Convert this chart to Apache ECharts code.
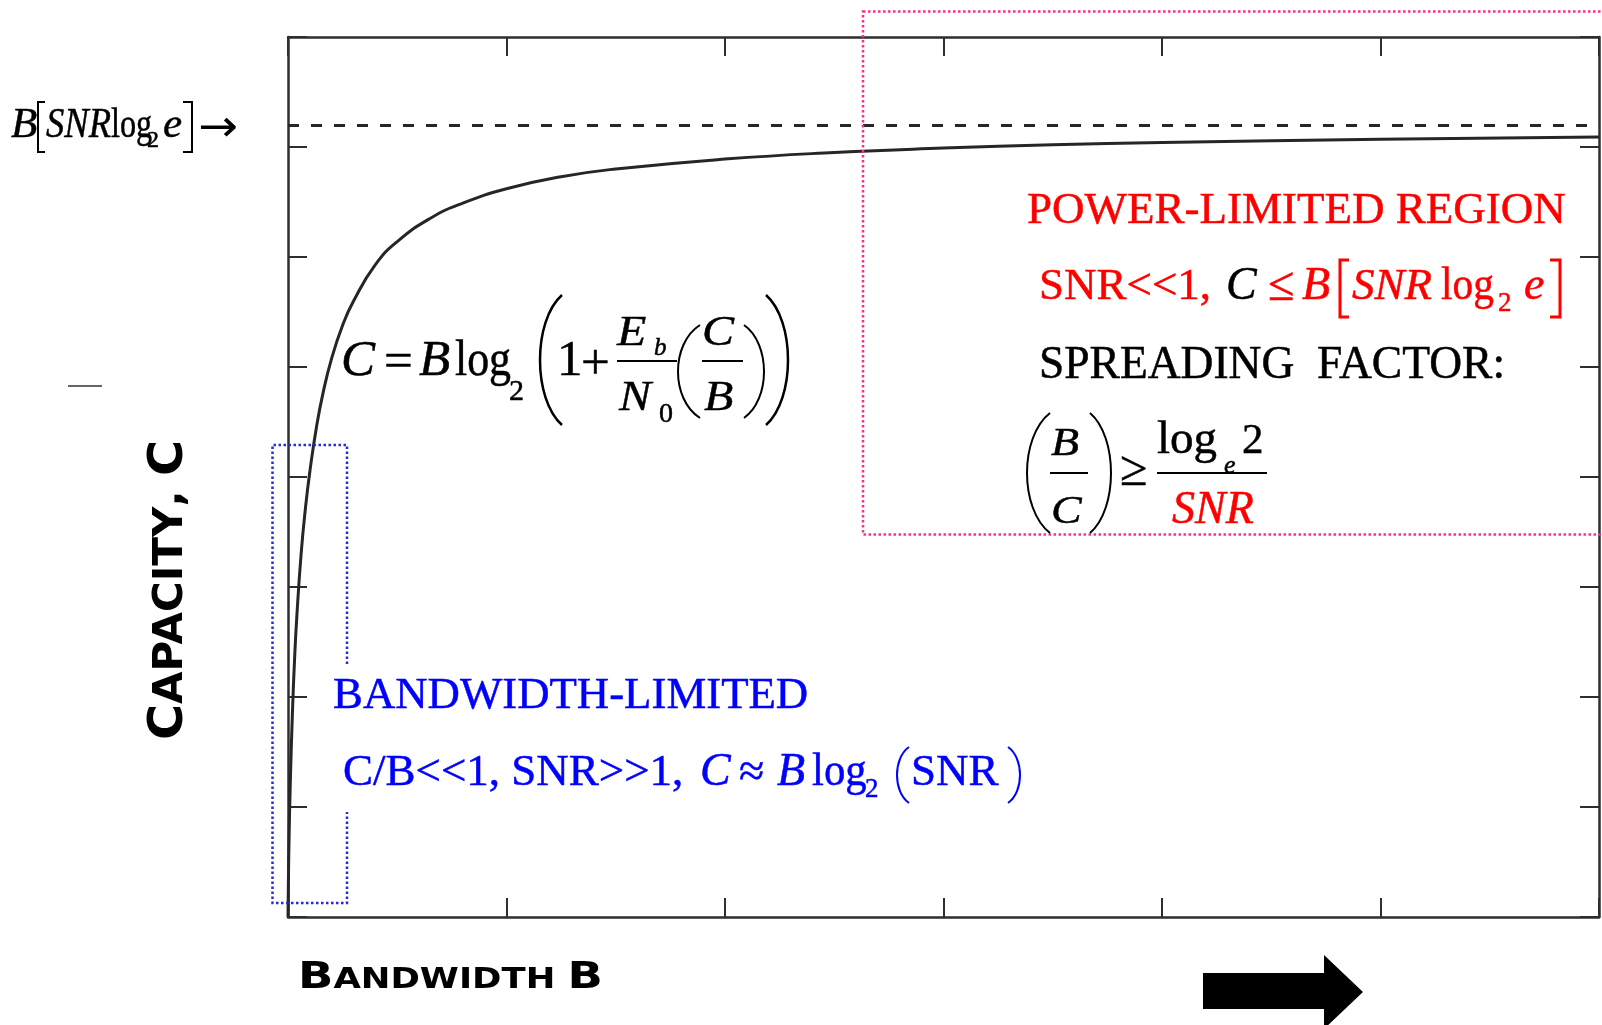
<!DOCTYPE html>
<html><head><meta charset="utf-8">
<script src="https://cdn.jsdelivr.net/npm/echarts@6/dist/echarts.min.js"></script>
<style>html,body{margin:0;padding:0;background:#fff}#c{width:1602px;height:1025px}</style>
</head><body><div id="c"></div><script>
// ---- data (bandwidth / capacity in axis units) ----
const bandwidth = [0, 0.002, 0.005, 0.01, 0.02, 0.03, 0.04, 0.06, 0.08, 0.1, 0.13, 0.16, 0.2, 0.25, 0.3, 0.4, 0.5, 0.65, 0.8, 1.0, 1.25, 1.5, 2.0, 2.5, 3.0, 3.5, 4.0, 5.0, 6.0];
const capacity  = [0, 0.36, 0.72, 1.18, 1.84, 2.34, 2.72, 3.30, 3.72, 4.05, 4.45, 4.76, 5.08, 5.38, 5.60, 5.93, 6.14, 6.35, 6.49, 6.62, 6.73, 6.80, 6.89, 6.95, 6.99, 7.02, 7.04, 7.07, 7.09];
const asymptoteCapacity = [7.2];
const xAxisRange = [0, 6];
const yAxisRange = [0, 8];
const xAxisName = ['B', 'ANDWIDTH', ' ', 'B'];
const yAxisName = ['C', 'APACITY', ',', ' ', 'C'];

const FRAME = '#2e2e2e', RED = '#ff0000', BLUE = '#0000ff', BLK = '#000000';
const SERIF = '"Liberation Serif","Times New Roman",serif';
const SANS = '"DejaVu Sans",sans-serif';
const mctx = document.createElement('canvas').getContext('2d');
function fontStr(size, it, bold, fam) { return (it ? 'italic ' : '') + (bold ? 'bold ' : '') + size + 'px ' + (fam || SERIF); }
function metrics(text, font) { mctx.font = font; mctx.textBaseline = 'middle'; return mctx.measureText(text); }
function midOffset(font) { return metrics('H', font).actualBoundingBoxDescent; }
function advance(text, font) { return metrics(text, font).width; }
function txt(x, y, text, font, o, oy) {
  return { type: 'text', x: x, y: y, originX: 0, originY: oy || 0, scaleX: o.sx || 1, scaleY: o.sy || 1, z: 30, silent: true,
    style: { text: text, font: font, fill: o.c || BLK, stroke: o.c || BLK, lineWidth: o.lw === undefined ? 0.5 : o.lw,
      textAlign: 'left', textVerticalAlign: 'middle' } };
}
// text placed by baseline
function T(x, base, text, size, o) {
  o = o || {};
  const font = fontStr(size, o.it, o.bold, o.fam);
  const d = midOffset(font);
  return txt(x, base - d, text, font, o, d);
}
// text placed by the vertical centre of its ink
function Tc(x, cy, text, size, o) {
  o = o || {};
  const font = fontStr(size, o.it, o.bold, o.fam);
  const m = metrics(text, font);
  const off = (m.actualBoundingBoxDescent - m.actualBoundingBoxAscent) / 2;
  return txt(x, cy - off, text, font, o, off);
}
function paren(xl, xr, top, bot, left, color, w) {
  const h = bot - top;
  const xe = left ? xr : xl, xb = left ? xl : xr;
  const cx = (xb - 0.25 * xe) / 0.75;
  return { type: 'bezierCurve', z: 30, silent: true,
    shape: { x1: xe, y1: top, x2: xe, y2: bot, cpx1: cx, cpy1: top + h * 0.2, cpx2: cx, cpy2: bot - h * 0.2 },
    style: { stroke: color || BLK, lineWidth: w || 2, fill: 'none' } };
}
function bracket(xl, xr, top, bot, left, color, w) {
  const xs = left ? xl : xr, xe = left ? xr : xl;
  return { type: 'polyline', z: 30, silent: true, shape: { points: [[xe, top], [xs, top], [xs, bot], [xe, bot]] },
    style: { stroke: color || BLK, lineWidth: w || 2, fill: 'none' } };
}
function L(x1, y1, x2, y2, color, w) {
  return { type: 'line', z: 30, silent: true, shape: { x1: x1, y1: y1, x2: x2, y2: y2 }, style: { stroke: color || BLK, lineWidth: w || 2 } };
}
function smallCaps(parts, big, small, fam) {
  let cx = 0; const kids = [];
  parts.forEach(function (p, i) {
    const isBig = (i === 0 || i === parts.length - 1);
    const font = fontStr(isBig ? big : small, false, true, fam);
    kids.push({ type: 'text', x: cx, y: -midOffset(font), z: 30, silent: true,
      style: { text: p, font: font, fill: BLK, textAlign: 'left', textVerticalAlign: 'middle' } });
    cx += advance(p, font);
  });
  return { kids: kids, width: cx };
}

const xName = smallCaps(xAxisName, 38, 29, SANS);
const yName = smallCaps(yAxisName, 48, 41, SANS);
const FR = { it: 1, sy: 0.86 };

const els = [
  // pink dotted region box
  { type: 'rect', z: 15, silent: true, shape: { x: 863, y: 11.5, width: 760, height: 523 }, style: { stroke: '#ff2d8f', fill: 'none', lineWidth: 2.5, lineDash: [2.5, 2.5] } },
  // blue dotted box (gap behind text)
  { type: 'polyline', z: 15, silent: true, shape: { points: [[347, 664], [347, 445], [272.5, 445], [272.5, 903], [347, 903], [347, 812]] }, style: { stroke: '#2a2ad8', fill: 'none', lineWidth: 2.5, lineDash: [2.5, 2.5] } },
  // small dash at left
  L(68, 386, 102, 386, '#333', 1.5),
  // block arrow
  { type: 'polygon', z: 15, silent: true, shape: { points: [[1203, 973], [1324, 973], [1324, 955], [1363, 992], [1324, 1029], [1324, 1009], [1203, 1009]] }, style: { fill: BLK } },

  // B[SNR log2 e] ->
  T(11, 137, 'B', 43, { it: 1 }),
  bracket(38, 45, 102, 152, true, BLK, 2),
  T(46, 137, 'SNR', 43, { it: 1, sx: 0.85 }),
  T(111, 137, 'log', 43, { sx: 0.75 }),
  T(147, 147, '2', 24),
  T(163, 137, 'e', 43, { it: 1 }),
  bracket(183, 192, 102, 152, false, BLK, 2),
  Tc(198, 127, '\u2192', 44, { fam: SANS, lw: 0, sx: 1.08 }),

  // C = B log2(1 + Eb/N0 (C/B))
  T(341, 375, 'C', 51, { it: 1 }),
  Tc(384, 360, '=', 51),
  T(419, 375, 'B', 51, { it: 1 }),
  T(455, 375, 'log', 51, { sx: 0.86 }),
  T(509, 400, '2', 30),
  paren(540, 562, 295, 425, true, BLK, 2.5),
  T(557, 375, '1', 51),
  Tc(581, 362, '+', 51),
  T(617, 345, 'E', 48, FR),
  T(654, 355, 'b', 25, { it: 1 }),
  L(617, 361, 677, 361, BLK, 2),
  T(619, 410, 'N', 48, FR),
  T(659, 422, '0', 28),
  paren(678, 700, 325, 418, true, BLK, 2),
  T(702, 345, 'C', 48, FR),
  L(702, 361, 743, 361, BLK, 2),
  T(704, 410, 'B', 48, FR),
  paren(744, 764, 325, 418, false, BLK, 2),
  paren(766, 788, 295, 425, false, BLK, 2.5),

  // power-limited region
  T(1027, 223, 'POWER-LIMITED REGION', 45, { c: RED }),
  T(1039, 299, 'SNR<<1,', 45, { c: RED }),
  T(1226, 299, 'C', 46, { it: 1, c: BLK }),
  Tc(1268, 286, '\u2264', 48, { c: RED }),
  T(1302, 299, 'B', 46, { it: 1, c: RED }),
  bracket(1340, 1349, 260, 317, true, RED, 3),
  T(1352, 299, 'SNR', 45, { it: 1, c: RED }),
  T(1441, 299, 'log', 46, { c: RED, sx: 0.9 }),
  T(1498, 311, '2', 27, { c: RED }),
  T(1524, 299, 'e', 46, { it: 1, c: RED }),
  bracket(1550, 1560, 260, 317, false, RED, 3),
  T(1039, 378, 'SPREADING  FACTOR:', 45.5),
  paren(1027, 1050, 413, 533, true, BLK, 2),
  T(1051, 455, 'B', 46, FR),
  L(1050, 473, 1088, 473, BLK, 2),
  T(1051, 523, 'C', 46, FR),
  paren(1090, 1111, 413, 533, false, BLK, 2),
  Tc(1120, 470, '\u2265', 50),
  T(1157, 453, 'log', 47),
  T(1224, 473, 'e', 26, { it: 1 }),
  T(1242, 453, '2', 43),
  L(1157, 473, 1267, 473, BLK, 2),
  T(1172, 523, 'SNR', 46, { it: 1, c: RED }),

  // bandwidth-limited
  T(333, 708, 'BANDWIDTH-LIMITED', 44.8, { c: BLUE }),
  T(343, 785, 'C/B<<1, SNR>>1,', 45, { c: BLUE }),
  T(700, 785, 'C', 46, { it: 1, c: BLUE }),
  Tc(739, 771, '\u2248', 46, { c: BLUE }),
  T(777, 785, 'B', 46, { it: 1, c: BLUE }),
  T(812, 785, 'log', 46, { c: BLUE, sx: 0.93 }),
  T(865, 797, '2', 27, { c: BLUE }),
  paren(897, 909, 747, 803, true, BLUE, 2),
  T(911, 785, 'SNR', 45, { c: BLUE }),
  paren(1008, 1020, 747, 803, false, BLUE, 2),

  // axis names
  { type: 'group', x: 298, y: 988, scaleX: 305 / xName.width, children: xName.kids },
  { type: 'group', x: 182, y: 740, rotation: Math.PI / 2, scaleX: 300 / yName.width, children: yName.kids }
];

function axis(pos, range) {
  return { type: 'value', position: pos, min: range[0], max: range[1], interval: 1,
    axisLine: { show: true, onZero: false, lineStyle: { color: FRAME, width: 2.5 } },
    axisTick: { show: true, inside: true, length: 19, lineStyle: { color: FRAME, width: 2 } },
    axisLabel: { show: false }, splitLine: { show: false } };
}

const chart = echarts.init(document.getElementById('c'), null, { renderer: 'canvas' });
chart.setOption({
  animation: false,
  backgroundColor: '#ffffff',
  grid: { left: 288, top: 37, right: 3, bottom: 108, outerBoundsMode: 'none', containLabel: false },
  xAxis: [axis('bottom', xAxisRange), axis('top', xAxisRange)],
  yAxis: [axis('left', yAxisRange), axis('right', yAxisRange)],
  series: [{
    type: 'line', xAxisIndex: 0, yAxisIndex: 0, z: 3,
    data: bandwidth.map(function (b, i) { return [b, capacity[i]]; }),
    smooth: 0.5, showSymbol: false, symbol: 'none',
    lineStyle: { color: '#262626', width: 3 },
    markLine: { silent: true, symbol: ['none', 'none'], label: { show: false },
      lineStyle: { color: '#262626', width: 3, type: [11, 12] },
      data: asymptoteCapacity.map(function (v) { return { yAxis: v }; }) }
  }],
  graphic: { elements: els }
});
</script></body></html>
